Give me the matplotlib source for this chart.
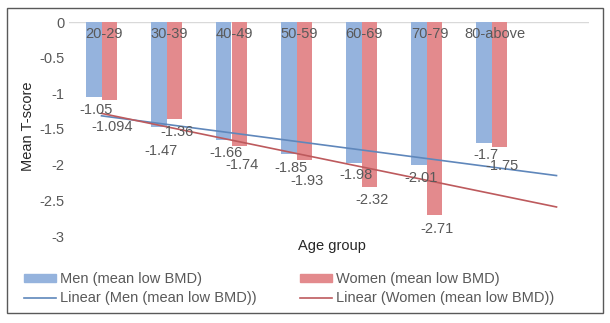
import numpy as np
import matplotlib.pyplot as plt
from matplotlib.patches import Patch, Rectangle
from matplotlib.lines import Line2D

plt.rcParams['font.family'] = ['Liberation Sans', 'DejaVu Sans']

# data
age_groups = ["20-29", "30-39", "40-49", "50-59", "60-69", "70-79", "80-above"]
men = [-1.05, -1.47, -1.66, -1.85, -1.98, -2.01, -1.7]
women = [-1.094, -1.36, -1.74, -1.93, -2.32, -2.71, -1.75]
men_label = ["-1.05", "-1.47", "-1.66", "-1.85", "-1.98", "-2.01", "-1.7"]
women_label = ["-1.094", "-1.36", "-1.74", "-1.93", "-2.32", "-2.71", "-1.75"]

# how far below the bar end each data label sits (pixels)
men_off = [13, 24, 13, 14, 12, 13, 12]
women_off = [27, 13, 19, 21, 13, 14, 19]

blue = "#95b3dd"
red = "#e38a8d"
blue_line = "#5f87bb"
red_line = "#bd5a5d"
grey = "#595959"
fs = 10.5

W, H = 610, 323
fig = plt.figure(figsize=(W / 100, H / 100), dpi=100)
ax = fig.add_axes([69 / W, 1 - 236 / H, 520 / W, 214 / H])

x = np.arange(len(age_groups))
bw = 0.24
ax.bar(x - bw / 2, men, bw, color=blue, zorder=2)
ax.bar(x + bw / 2, women, bw, color=red, zorder=2)

# linear trend lines, forecast forward one period
xt = np.array([0, len(age_groups)])
pm = np.polyfit(x, men, 1)
pw = np.polyfit(x, women, 1)
ax.plot(xt, np.polyval(pm, xt), color=blue_line, lw=1.2, zorder=3)
ax.plot(xt, np.polyval(pw, xt), color=red_line, lw=1.2, zorder=3)

ax.axhline(0, color="#d9d9d9", lw=1, zorder=1)

for i in range(len(age_groups)):
    ax.annotate(men_label[i], (x[i] - bw / 2, men[i]), xytext=(2, -men_off[i]),
                textcoords='offset pixels', ha='center', va='center',
                fontsize=fs, color=grey, zorder=4)
    ax.annotate(women_label[i], (x[i] + bw / 2, women[i]), xytext=(3, -women_off[i]),
                textcoords='offset pixels', ha='center', va='center',
                fontsize=fs, color=grey, zorder=4)
    ax.annotate(age_groups[i], (x[i], 0), xytext=(3, -12),
                textcoords='offset pixels', ha='center', va='center',
                fontsize=fs, color=grey, zorder=4)

ax.set_xlim(-0.5, len(age_groups) + 0.5)
ax.set_ylim(-3, 0)
ax.set_xticks([])
yt = [0, -0.5, -1, -1.5, -2, -2.5, -3]
ax.set_yticks(yt)
ax.set_yticklabels(["0", "-0.5", "-1", "-1.5", "-2", "-2.5", "-3"], color=grey, fontsize=fs)
ax.tick_params(axis='y', length=0, pad=3)
for s in ax.spines.values():
    s.set_visible(False)
ax.patch.set_alpha(0)

fig.text(28 / W, 1 - 126 / H, "Mean T-score", rotation=90, ha='center', va='center',
         fontsize=fs, color="#262626")
fig.text(332 / W, 1 - 246 / H, "Age group", ha='center', va='center',
         fontsize=fs, color="#262626")

handles = [Patch(color=blue), Line2D([], [], color=blue_line, lw=1.2),
           Patch(color=red), Line2D([], [], color=red_line, lw=1.2)]
labels = ["Men (mean low BMD)", "Linear (Men (mean low BMD))",
          "Women (mean low BMD)", "Linear (Women (mean low BMD))"]
fig.legend(handles, labels, ncol=2, loc='upper left', bbox_to_anchor=(11 / W, 1 - 259 / H),
           frameon=False, fontsize=fs, handlelength=2.2, handleheight=0.4,
           handletextpad=0.25, columnspacing=3.0, labelspacing=0.35, labelcolor=grey)

fig.add_artist(Rectangle((7 / W, 1 - 313 / H), 596 / W, 305 / H, transform=fig.transFigure,
                         fill=False, edgecolor="#595959", lw=1))

fig.savefig("out.png", dpi=100)
